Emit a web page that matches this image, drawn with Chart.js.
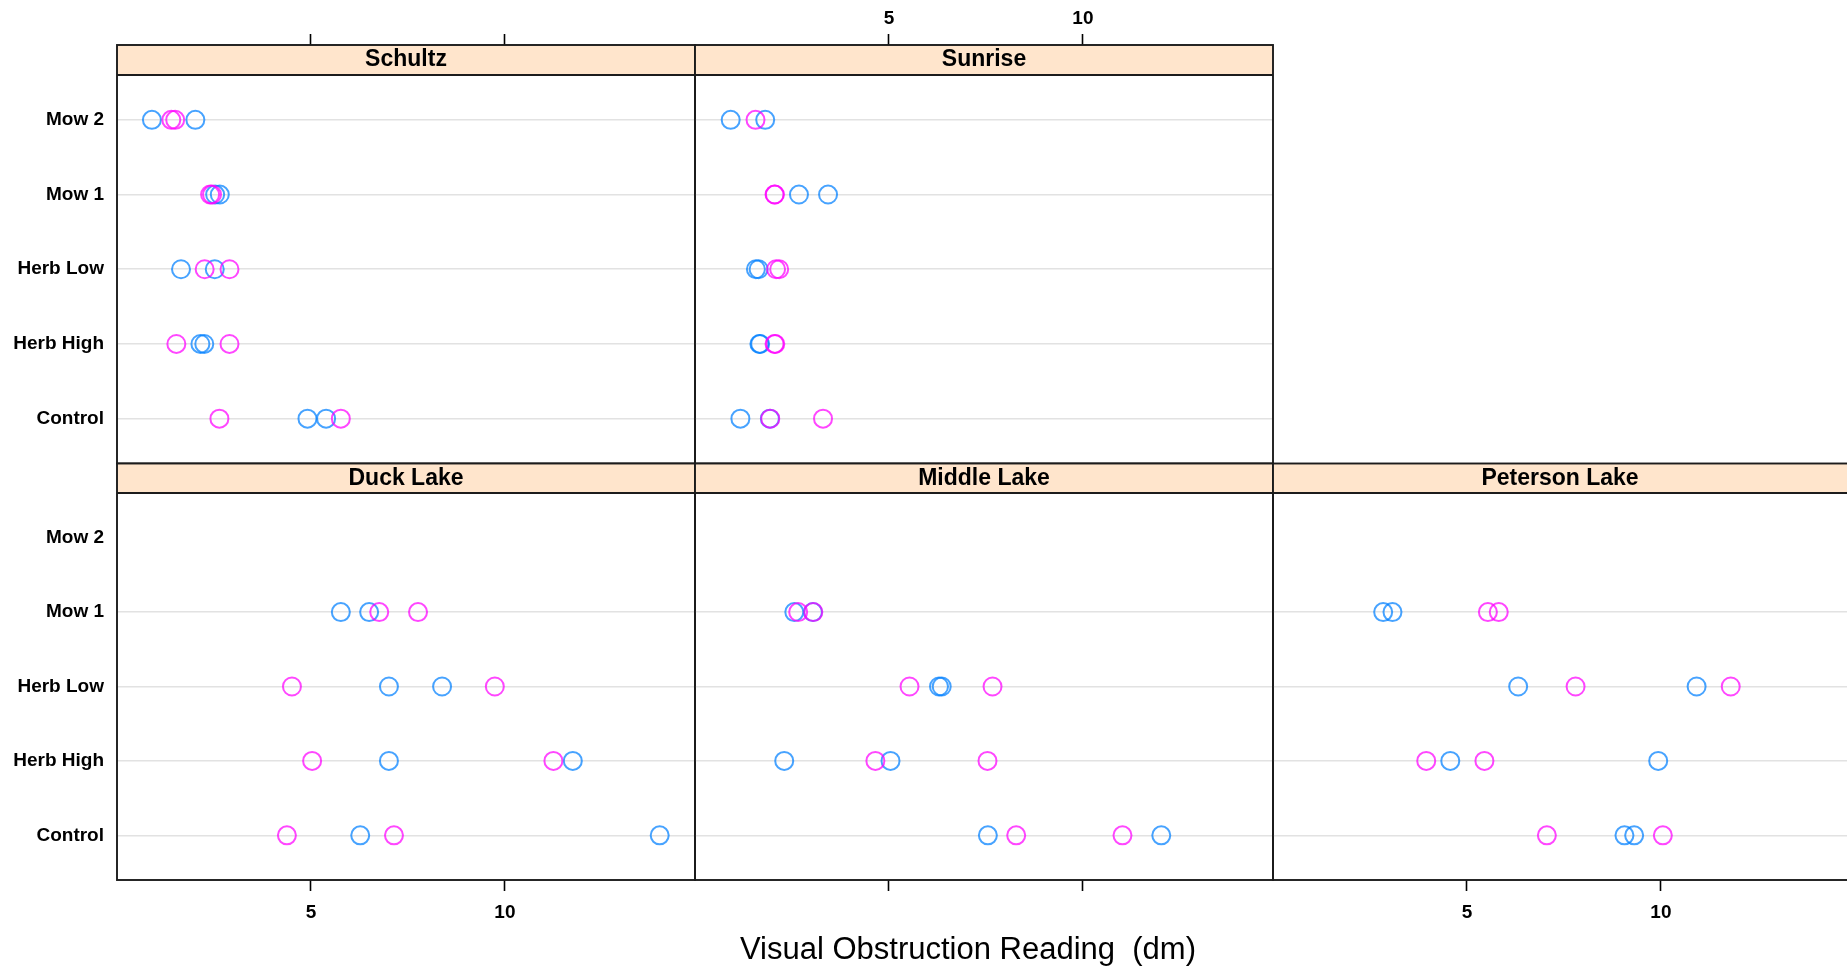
<!DOCTYPE html>
<html>
<head>
<meta charset="utf-8">
<title>Visual Obstruction Reading by site and treatment</title>
<script src="https://cdn.jsdelivr.net/npm/chart.js@4.4.1/dist/chart.umd.min.js"></script>
<style>
  html, body { margin: 0; padding: 0; background: #ffffff; }
  #wrap { position: relative; width: 1847px; height: 968px; overflow: hidden; background: #ffffff; }
  #wrap canvas { position: absolute; left: 0; top: 0; }
</style>
</head>
<body>
<div id="wrap"></div>
<script>
// ---- data ---------------------------------------------------------------
const categories = ['Mow 2', 'Mow 1', 'Herb Low', 'Herb High', 'Control'];
const tickValues = [5, 10];
const xAxisLabel = 'Visual Obstruction Reading  (dm)';
const groupNames = ['Group 1', 'Group 2'];

// readings (dm) per treatment, in the order of `categories`
const schultz1 = [[0.90, 2.02], [2.53, 2.65], [1.65, 2.52], [2.15, 2.25], [4.91, 5.39]];
const schultz2 = [[1.40, 1.50], [2.40, 2.45], [2.26, 2.90], [1.53, 2.90], [2.64, 5.77]];
const sunrise1 = [[0.92, 1.81], [2.68, 3.43], [1.57, 1.64], [1.66, 1.68], [1.17, 1.93]];
const sunrise2 = [[1.56], [2.05, 2.06], [2.09, 2.17], [2.05, 2.07], [1.94, 3.30]];
const duck1 = [[], [5.77, 6.50], [7.01, 8.38], [7.01, 11.75], [6.27, 13.99]];
const duck2 = [[], [6.76, 7.76], [4.51, 9.74], [5.03, 11.25], [4.38, 7.14]];
const middle1 = [[], [2.56, 3.04], [6.29, 6.36], [2.30, 5.04], [7.55, 12.02]];
const middle2 = [[], [2.66, 3.05], [5.53, 7.67], [4.65, 7.54], [8.28, 11.02]];
const peterson1 = [[], [2.84, 3.08], [6.32, 10.92], [4.57, 9.93], [9.06, 9.31]];
const peterson2 = [[], [5.54, 5.82], [7.80, 11.80], [3.95, 5.45], [7.06, 10.05]];

// ---- layout -------------------------------------------------------------
const W = 1847, H = 968;
const FONT = '"Liberation Sans", Arial, Helvetica, sans-serif';
const colLeft = [117, 695, 1273];
const colWidth = 578;
const xMax = 14.9;                        // axis range of a full panel
const rows = [
  { stripTop: 45, stripH: 30, bottom: 463.5 },
  { stripTop: 463.5, stripH: 29.5, bottom: 880 }
];
const colours = {
  g1: 'rgba(0,128,255,0.72)',
  g2: 'rgba(255,0,255,0.72)',
  strip: '#ffe5cc',
  grid: '#e2e2e2',
  frame: '#1c1c1c'
};

const panels = [
  { name: 'Schultz',       g1: schultz1,  g2: schultz2,  col: 0, row: 0, yLabels: true,  xLabels: false },
  { name: 'Sunrise',       g1: sunrise1,  g2: sunrise2,  col: 1, row: 0, yLabels: false, xLabels: true  },
  { name: 'Duck Lake',     g1: duck1,     g2: duck2,     col: 0, row: 1, yLabels: true,  xLabels: true  },
  { name: 'Middle Lake',   g1: middle1,   g2: middle2,   col: 1, row: 1, yLabels: false, xLabels: false, axisTitle: true },
  { name: 'Peterson Lake', g1: peterson1, g2: peterson2, col: 2, row: 1, yLabels: false, xLabels: true  }
];

// level value: first category at the top of the panel
const levelOf = (i) => categories.length - i;

function toPoints(series) {
  const pts = [];
  series.forEach((vals, i) => vals.forEach(v => pts.push({ x: v, y: levelOf(i) })));
  return pts;
}

// strip background and panel frame
const stripPlugin = {
  id: 'strip',
  beforeDraw(chart, args, opts) {
    const t = chart.titleBlock;
    const ctx = chart.ctx;
    ctx.save();
    ctx.fillStyle = opts.background;
    ctx.fillRect(t.left, t.top, t.width + (opts.openRight ? 20 : 0), t.height);
    ctx.restore();
  },
  afterDraw(chart, args, opts) {
    const a = chart.chartArea, t = chart.titleBlock;
    const ctx = chart.ctx;
    const right = opts.openRight ? a.right + 20 : a.right;
    ctx.save();
    ctx.strokeStyle = opts.frameColor;
    ctx.lineWidth = opts.frameWidth;
    ctx.strokeRect(a.left, t.top, right - a.left, a.bottom - t.top);
    ctx.beginPath();
    ctx.moveTo(a.left, a.top);
    ctx.lineTo(right, a.top);
    ctx.stroke();
    ctx.restore();
  }
};

// shared x-axis label below the bottom row
const axisTitlePlugin = {
  id: 'axisTitle',
  afterDraw(chart, args, opts) {
    if (!opts.text) return;
    const ctx = chart.ctx;
    ctx.save();
    ctx.font = opts.font;
    ctx.fillStyle = opts.color;
    ctx.textAlign = 'center';
    ctx.textBaseline = 'alphabetic';
    ctx.fillText(opts.text, opts.x, opts.y);
    ctx.restore();
  }
};

const wrap = document.getElementById('wrap');

panels.forEach((p) => {
  const r = rows[p.row];
  const left = colLeft[p.col];
  const right = Math.min(left + colWidth, W);
  const panelMax = xMax * (right - left) / colWidth;
  const isTop = p.row === 0;
  const axisH = isTop ? r.stripTop : 40;
  const yW = p.yLabels ? left : 0;

  const canvas = document.createElement('canvas');
  canvas.width = W;
  canvas.height = H;
  canvas.style.width = W + 'px';
  canvas.style.height = H + 'px';
  wrap.appendChild(canvas);

  const present = new Set();
  [p.g1, p.g2].forEach(s => s.forEach((vals, i) => { if (vals.length) present.add(levelOf(i)); }));

  const marker = {
    pointStyle: 'circle',
    pointRadius: 9,
    pointHoverRadius: 9,
    pointBorderWidth: 2,
    pointBackgroundColor: 'rgba(0,0,0,0)'
  };

  new Chart(canvas, {
    type: 'scatter',
    data: {
      datasets: [
        Object.assign({ label: groupNames[0], data: toPoints(p.g1), order: 1, pointBorderColor: colours.g1 }, marker),
        Object.assign({ label: groupNames[1], data: toPoints(p.g2), order: 0, pointBorderColor: colours.g2 }, marker)
      ]
    },
    options: {
      responsive: false,
      devicePixelRatio: 1,
      animation: false,
      events: [],
      layout: {
        autoPadding: false,
        padding: {
          left: left - yW,
          right: W - right,
          top: isTop ? 0 : r.stripTop,
          bottom: isTop ? H - r.bottom : H - r.bottom - axisH
        }
      },
      scales: {
        x: {
          type: 'linear',
          position: isTop ? 'top' : 'bottom',
          weight: 10,
          min: 0,
          max: panelMax,
          bounds: 'data',
          afterBuildTicks: (scale) => { scale.ticks = tickValues.map(v => ({ value: v })); },
          afterFit: (scale) => { scale.height = axisH; },
          grid: {
            display: true,
            drawOnChartArea: false,
            drawTicks: true,
            tickLength: 11,
            tickWidth: 1.6,
            tickColor: '#000000',
            color: '#000000'
          },
          border: { display: false },
          ticks: {
            display: p.xLabels,
            padding: isTop ? 4 : 10,
            color: '#000000',
            font: { family: FONT, size: 19, weight: 'bold' },
            callback: (v) => String(v),
            maxRotation: 0,
            autoSkip: false
          }
        },
        y: {
          type: 'linear',
          position: 'left',
          min: 0.4,
          max: categories.length + 0.6,
          bounds: 'data',
          afterBuildTicks: (scale) => { scale.ticks = categories.map((c, i) => ({ value: levelOf(i) })); },
          afterFit: (scale) => { scale.width = yW; },
          grid: {
            display: true,
            drawOnChartArea: true,
            drawTicks: false,
            lineWidth: 1.6,
            color: (ctx) => (ctx.tick && present.has(ctx.tick.value)) ? colours.grid : 'rgba(0,0,0,0)'
          },
          border: { display: false },
          ticks: {
            display: p.yLabels,
            padding: 13,
            color: '#000000',
            font: { family: FONT, size: 19, weight: 'bold' },
            callback: (v) => categories[categories.length - v],
            autoSkip: false
          }
        }
      },
      plugins: {
        legend: { display: false },
        tooltip: { enabled: false },
        title: {
          display: true,
          text: p.name,
          position: 'top',
          fullSize: false,
          weight: 1,
          align: 'center',
          color: '#000000',
          padding: 0,
          font: { family: FONT, size: 23, weight: 'bold', lineHeight: r.stripH + 'px' }
        },
        strip: {
          background: colours.strip,
          frameColor: colours.frame,
          frameWidth: 1.9,
          openRight: right >= W
        },
        axisTitle: p.axisTitle ? {
          text: xAxisLabel,
          x: 968,
          y: 959,
          color: '#000000',
          font: '31px ' + FONT
        } : { text: '' }
      }
    },
    plugins: [stripPlugin, axisTitlePlugin]
  });
});
</script>
</body>
</html>
